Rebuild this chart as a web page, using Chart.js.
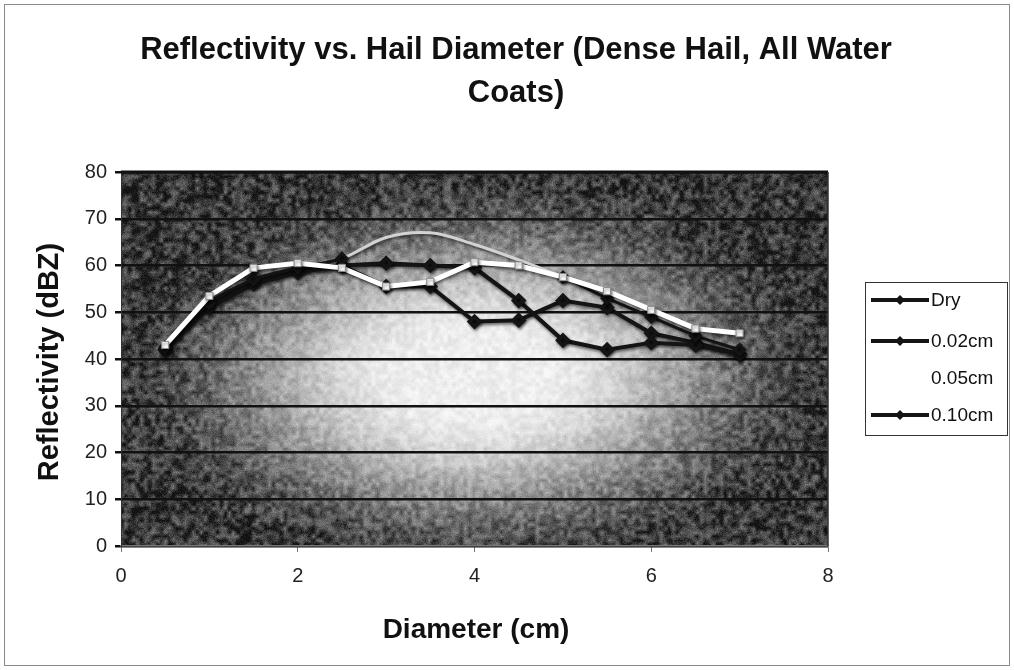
<!DOCTYPE html>
<html>
<head>
<meta charset="utf-8">
<script src="https://cdn.jsdelivr.net/npm/chart.js@4/dist/chart.umd.min.js"></script>
<style>
  html, body { margin: 0; padding: 0; background: #ffffff; }
  #wrap { width: 1014px; height: 670px; position: relative; }
</style>
</head>
<body>
<div id="wrap"><canvas id="chart" width="1014" height="670"></canvas></div>
<script>
// Hail diameter (cm) and reflectivity (dBZ) for each water coat
const diameters   = [0.5, 1, 1.5, 2, 2.5, 3, 3.5, 4, 4.5, 5, 5.5, 6, 6.5, 7];
const dryValues   = [42, 51, 56, 58.5, 60, 60.5, 60, 59.5, 52.5, 44, 42, 43.5, 43, 41];
const coat002     = [42, 52, 57, 59, 60, 55.5, 55.5, 48, 48.3, 52.5, 51, 45.5, 43.5, 41];
const coat005     = [43, 53.5, 59.5, 60.5, 59.5, 55.5, 56.5, 60.7, 60, 57.5, 54.5, 50.5, 46.5, 45.5];
const coat010     = [42.5, 52, 57, 59.5, 61.5, 66, 67, 64.5, 61.2, 57.5, 53, 49, 45, 42];
const seriesNames = ['Dry', '0.02cm', '0.05cm', '0.10cm'];
const xTicks = [0, 2, 4, 6, 8];
const yTicks = [0, 10, 20, 30, 40, 50, 60, 70, 80];
const titleLines = ['Reflectivity vs. Hail Diameter (Dense Hail, All Water', 'Coats)'];
const xTitle = 'Diameter (cm)';
const yTitle = 'Reflectivity (dBZ)';

const DARK = '#141414';
const PALE = '#d2d2d2';
// the 0.10cm curve shows pale where it crosses the bright middle of the plot
const paleRange = [2.5, 5];

const toPoints = vals => diameters.map((d, i) => ({ x: d, y: vals[i] }));
const inPale = x => x > paleRange[0] && x < paleRange[1];

const FONT = '"Liberation Sans", Arial, Helvetica, sans-serif';

// deterministic grain for the plot background
function hash(x, y) {
  let h = (x * 374761393 + y * 668265263) | 0;
  h = (h ^ (h >>> 13)) * 1274126177 | 0;
  return ((h ^ (h >>> 16)) >>> 0) / 4294967295;
}
let bgCache = null;
function buildBackground(area) {
  const w = Math.round(area.right - area.left), h = Math.round(area.bottom - area.top);
  const off = document.createElement('canvas');
  off.width = w; off.height = h;
  const octx = off.getContext('2d');
  const img = octx.createImageData(w, h);
  const cx = 475 - area.left, cy = 375 - area.top, rx = 355, ry = 198;
  const cell = 4;
  const vn = (x, y) => {
    const gx = Math.floor(x / cell), gy = Math.floor(y / cell);
    const fx = x / cell - gx, fy = y / cell - gy;
    const a = hash(gx, gy), b = hash(gx + 1, gy), c = hash(gx, gy + 1), d = hash(gx + 1, gy + 1);
    return (a * (1 - fx) + b * fx) * (1 - fy) + (c * (1 - fx) + d * fx) * fy;
  };
  for (let y = 0; y < h; y++) {
    for (let x = 0; x < w; x++) {
      const r = Math.sqrt(((x - cx) / rx) ** 2 + ((y - cy) / ry) ** 2);
      let t = Math.min(1, Math.max(0, (r - 0.18) / 0.86));
      const s = t * t * (3 - 2 * t);
      const base = 238 - 182 * s;
      const amp = 14 + 50 * s;
      let v = base + (vn(x, y) - 0.5) * amp * 1.7 + (hash(x + 7, y + 13) - 0.5) * amp * 0.6;
      v = Math.max(18, Math.min(250, v));
      const k = (y * w + x) * 4;
      img.data[k] = img.data[k + 1] = img.data[k + 2] = v;
      img.data[k + 3] = 255;
    }
  }
  octx.putImageData(img, 0, 0);
  return off;
}

const decorPlugin = {
  id: 'decor',
  beforeDraw(chart) {
    const { ctx, chartArea: a } = chart;
    if (!bgCache) bgCache = buildBackground(a);
    ctx.save();
    ctx.fillStyle = '#ffffff';
    ctx.fillRect(0, 0, chart.width, chart.height);
    ctx.drawImage(bgCache, Math.round(a.left), Math.round(a.top));
    ctx.restore();
  },
  beforeDatasetDraw(chart) {
    const ctx = chart.ctx;
    ctx.save();
    ctx.shadowColor = 'rgba(0,0,0,0.55)';
    ctx.shadowBlur = 3;
    ctx.shadowOffsetX = 1;
    ctx.shadowOffsetY = 2;
  },
  afterDatasetDraw(chart) {
    chart.ctx.restore();
  },
  afterDraw(chart) {
    const { ctx, chartArea: a } = chart;
    ctx.save();
    // outer frame
    ctx.strokeStyle = '#8a8a8a';
    ctx.lineWidth = 1;
    ctx.strokeRect(4.5, 4.5, 1005, 661);
    // plot top and right edges
    ctx.strokeStyle = '#111';
    ctx.lineWidth = 3;
    ctx.beginPath();
    ctx.moveTo(a.left, a.top); ctx.lineTo(a.right, a.top);
    ctx.stroke();
    ctx.lineWidth = 1.5;
    ctx.strokeStyle = '#333';
    ctx.beginPath();
    ctx.moveTo(a.right, a.top); ctx.lineTo(a.right, a.bottom);
    ctx.stroke();

    // title
    ctx.fillStyle = '#111';
    ctx.textAlign = 'center';
    ctx.textBaseline = 'middle';
    ctx.font = 'bold 31px ' + FONT;
    ctx.fillText(titleLines[0], 516, 50);
    ctx.fillText(titleLines[1], 516, 93);

    // axis titles
    ctx.font = 'bold 28px ' + FONT;
    ctx.fillText(xTitle, 476, 630);
    ctx.save();
    ctx.translate(50, 362);
    ctx.rotate(-Math.PI / 2);
    ctx.font = 'bold 29px ' + FONT;
    ctx.fillText(yTitle, 0, 0);
    ctx.restore();

    // legend
    const lx = 865.5, ly = 282.5, lw = 142, lh = 153;
    ctx.strokeStyle = '#333';
    ctx.lineWidth = 1;
    ctx.strokeRect(lx, ly, lw, lh);
    const rows = [300, 341, 378, 415];
    ctx.font = '19px ' + FONT;
    ctx.textAlign = 'left';
    chart.data.datasets.forEach((ds, i) => {
      const y = rows[i];
      const col = ds.legendColor;
      ctx.strokeStyle = col;
      ctx.fillStyle = col;
      ctx.lineWidth = 4;
      ctx.beginPath();
      ctx.moveTo(871, y); ctx.lineTo(929, y);
      ctx.stroke();
      ctx.beginPath();
      ctx.moveTo(900, y - 5); ctx.lineTo(905, y); ctx.lineTo(900, y + 5); ctx.lineTo(895, y);
      ctx.closePath();
      ctx.fill();
      ctx.fillStyle = '#111';
      ctx.fillText(ds.label, 931, y + 1);
    });
    ctx.restore();
  }
};

const darkSeries = (label, vals) => ({
  label,
  data: toPoints(vals),
  borderColor: DARK,
  legendColor: DARK,
  borderWidth: 4,
  pointStyle: 'rectRot',
  pointRadius: 5,
  pointBackgroundColor: DARK,
  pointBorderColor: DARK,
  tension: 0,
  order: 2
});

const datasets = [
  darkSeries(seriesNames[0], dryValues),
  darkSeries(seriesNames[1], coat002),
  {
    label: seriesNames[2],
    data: toPoints(coat005),
    borderColor: '#ffffff',
    legendColor: '#ffffff',
    borderWidth: 5,
    pointStyle: 'rect',
    pointRadius: 5,
    pointBackgroundColor: '#ffffff',
    pointBorderColor: '#8a8a8a',
    pointBorderWidth: 1,
    tension: 0,
    order: 0
  },
  Object.assign(darkSeries(seriesNames[3], coat010), {
    tension: 0.35,
    borderWidth: 3,
    order: 1,
    pointRadius: c => (c.raw && inPale(c.raw.x)) ? 0 : 5,
    segment: {
      borderColor: c => (c.p0.parsed.x >= paleRange[0] && c.p1.parsed.x <= paleRange[1]) ? PALE : DARK
    }
  })
];

new Chart(document.getElementById('chart'), {
  type: 'line',
  data: { datasets },
  plugins: [decorPlugin],
  options: {
    responsive: false,
    animation: false,
    devicePixelRatio: 1,
    layout: { padding: { top: 172, right: 186, left: 0, bottom: 0 } },
    plugins: { legend: { display: false }, title: { display: false }, tooltip: { enabled: false } },
    scales: {
      x: {
        type: 'linear',
        min: 0, max: 8,
        afterBuildTicks: s => { s.ticks = xTicks.map(v => ({ value: v })); },
        afterFit: s => { s.height = 124; },
        grid: { drawOnChartArea: false, drawTicks: true, tickLength: 6, color: '#777', lineWidth: 1 },
        border: { display: true, color: '#777', width: 1.5 },
        ticks: { font: { family: FONT, size: 20 }, color: '#222', padding: 12, maxRotation: 0 }
      },
      y: {
        min: 0, max: 80,
        afterBuildTicks: s => { s.ticks = yTicks.map(v => ({ value: v })); },
        afterFit: s => { s.width = 121; },
        grid: { color: '#111', lineWidth: 2.5, drawTicks: true, tickLength: 6 },
        border: { display: true, color: '#333', width: 1 },
        ticks: { font: { family: FONT, size: 20 }, color: '#222', padding: 8 }
      }
    }
  }
});
</script>
</body>
</html>
